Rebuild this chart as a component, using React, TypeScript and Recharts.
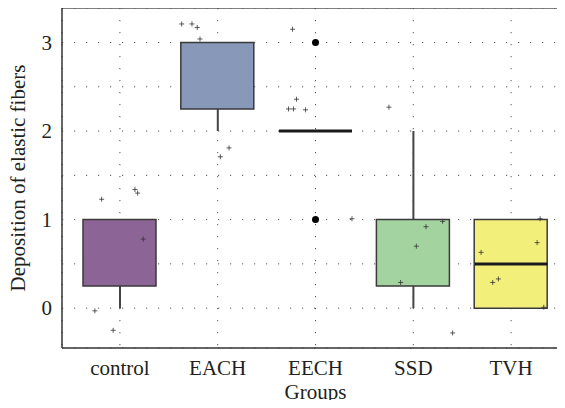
import React from "react";
import {
  ComposedChart,
  Bar,
  Scatter,
  XAxis,
  YAxis,
  CartesianGrid,
  ReferenceLine,
  Cell,
} from "recharts";

const groups = ["control", "EACH", "EECH", "SSD", "TVH"];
const q1 = [0.25, 2.25, null, 0.25, 0];
const q3 = [1, 3, null, 1, 1];
const medians = [null, null, 2, null, 0.5];
const whiskerLow = [0, 2, null, 0, null];
const whiskerHigh = [null, null, null, 2, null];
const boxColors = ["#8c6496", "#8898b8", "#cccccc", "#a3d49f", "#f3ef7b"];

const outlierGroup = [2, 2];
const outlierValues = [3, 1];

// raw observations, jittered horizontally around each group
const jitterOffsets = [
  [-0.187, 0.154, 0.181, 0.239, -0.256, -0.069],
  [-0.368, -0.263, -0.209, -0.181, 0.116, 0.027],
  [-0.235, -0.194, -0.276, -0.225, -0.102, 0.373],
  [-0.249, 0.13, 0.3, 0.031, -0.13, 0.402],
  [0.297, 0.266, -0.307, -0.188, -0.13, 0.334],
];
const jitterValues = [
  [1.23, 1.34, 1.3, 0.78, -0.03, -0.25],
  [3.21, 3.21, 3.17, 3.04, 1.81, 1.71],
  [3.15, 2.36, 2.25, 2.25, 2.24, 1.01],
  [2.27, 0.92, 0.98, 0.7, 0.29, -0.28],
  [1.01, 0.74, 0.63, 0.29, 0.33, 0.01],
];

const yTicks = [0, 0.5, 1, 1.5, 2, 2.5, 3];
const Y_MIN = -0.45;
const Y_MAX = 3.39;

const TEXT_STYLE = {
  fontFamily: "'Liberation Serif', 'Times New Roman', 'DejaVu Serif', serif",
  fontSize: 21,
  fill: "#231f20",
};
const PAD = { left: 9, right: 9 };

const boxData = groups.map((name, i) => ({
  name,
  box: q1[i] != null ? [q1[i], q3[i]] : null,
  wlo: whiskerLow[i] != null ? [whiskerLow[i], q1[i]] : null,
  whi: whiskerHigh[i] != null ? [q3[i], whiskerHigh[i]] : null,
}));

const medianData = medians
  .map((m, i) => ({ x: i, y: m }))
  .filter((d) => d.y != null);

const outlierData = outlierGroup.map((g, i) => ({ x: g, y: outlierValues[i] }));

const pointData = jitterValues.flatMap((vals, g) =>
  vals.map((v, k) => ({ x: g + jitterOffsets[g][k], y: v }))
);

const Plus = ({ cx, cy }: any) => (
  <path
    d={`M${cx - 2.5},${cy}H${cx + 2.5}M${cx},${cy - 2.5}V${cy + 2.5}`}
    stroke="#333"
    strokeWidth={0.8}
    fill="none"
  />
);

const MedianLine = ({ cx, cy }: any) => (
  <line x1={cx - 36.5} x2={cx + 36.5} y1={cy} y2={cy} stroke="#1a1a1a" strokeWidth={3} />
);

const Dot = ({ cx, cy }: any) => <circle cx={cx} cy={cy} r={3.5} fill="#000" />;

const XTick = ({ x, y, payload }: any) => (
  <text x={x} y={y + 15} textAnchor="middle" style={TEXT_STYLE}>
    {payload.value}
  </text>
);

const YTick = ({ x, y, payload }: any) =>
  Number.isInteger(payload.value) ? (
    <text x={x} y={y + 7} textAnchor="end" style={TEXT_STYLE}>
      {payload.value}
    </text>
  ) : null;

const XTitle = ({ viewBox }: any) => (
  <text x={viewBox.x + viewBox.width / 2} y={viewBox.y + 51} textAnchor="middle" style={TEXT_STYLE}>
    Groups
  </text>
);

const YTitle = ({ viewBox }: any) => {
  const cx = viewBox.x + 25;
  const cy = viewBox.y + viewBox.height / 2;
  return (
    <text x={cx} y={cy} transform={`rotate(-90 ${cx} ${cy})`} textAnchor="middle" style={TEXT_STYLE}>
      Deposition of elastic fibers
    </text>
  );
};

export default function App() {
  return (
    <div style={{ margin: -8, width: 565, height: 408, overflow: "hidden", background: "#fff" }}>
      <ComposedChart
        width={575}
        height={408}
        data={boxData}
        margin={{ top: 8, right: 6, bottom: 0, left: 0 }}
      >
        <CartesianGrid xAxisId="cat" stroke="#555" strokeDasharray="1.2 10.8" strokeWidth={1} />
        <XAxis
          xAxisId="cat"
          dataKey="name"
          padding={PAD}
          tickLine={false}
          tickSize={6}
          tickMargin={6}
          axisLine={{ stroke: "#333", strokeWidth: 1.5 }}
          tick={<XTick />}
          height={60}
          label={<XTitle />}
        />
        <XAxis xAxisId="wlo" dataKey="name" padding={PAD} hide />
        <XAxis xAxisId="whi" dataKey="name" padding={PAD} hide />
        <XAxis
          xAxisId="jit"
          dataKey="x"
          type="number"
          domain={[-0.5, 4.5]}
          padding={PAD}
          allowDataOverflow
          hide
        />
        <YAxis
          width={62}
          domain={[Y_MIN, Y_MAX]}
          ticks={yTicks}
          allowDataOverflow
          tickLine={false}
          tickSize={6}
          tickMargin={4}
          axisLine={{ stroke: "#333", strokeWidth: 1.5 }}
          tick={<YTick />}
          label={<YTitle />}
        />
        <ReferenceLine xAxisId="cat" y={Y_MAX} stroke="#555" strokeWidth={1.5} />

        <Bar xAxisId="wlo" dataKey="wlo" barSize={2} fill="#444" isAnimationActive={false} />
        <Bar xAxisId="whi" dataKey="whi" barSize={2} fill="#444" isAnimationActive={false} />
        <Bar xAxisId="cat" dataKey="box" barSize={73} stroke="#3a3a3a" strokeWidth={1.5} isAnimationActive={false}>
          {boxData.map((_, i) => (
            <Cell key={`box-${i}`} fill={boxColors[i]} />
          ))}
        </Bar>
        <Scatter xAxisId="jit" data={medianData} dataKey="y" shape={<MedianLine />} isAnimationActive={false} />
        <Scatter xAxisId="jit" data={pointData} dataKey="y" shape={<Plus />} isAnimationActive={false} />
        <Scatter xAxisId="jit" data={outlierData} dataKey="y" shape={<Dot />} isAnimationActive={false} />
      </ComposedChart>
    </div>
  );
}
